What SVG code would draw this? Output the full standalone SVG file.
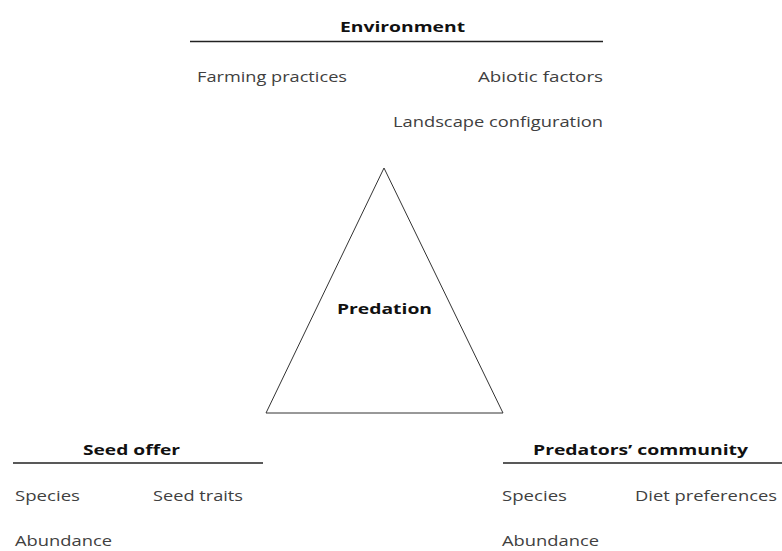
<svg xmlns="http://www.w3.org/2000/svg" width="782" height="551" viewBox="0 0 782 551">
<style>
text{font-family:"Open Sans","Liberation Sans",sans-serif;font-size:14px;fill:#404040}
.h{font-weight:bold;fill:#111;font-size:14.5px}
.rule{stroke:#222;stroke-width:1.6;fill:none}
.tri{stroke:#333;stroke-width:1;fill:none}
</style>
<rect width="782" height="551" fill="#fff"/>
<g id="environment">
<text class="h" x="340" y="32" textLength="125" lengthAdjust="spacingAndGlyphs">Environment</text>
<line class="rule" x1="190" y1="41.5" x2="603" y2="41.5"/>
<text x="197" y="82" textLength="150" lengthAdjust="spacingAndGlyphs">Farming practices</text>
<text x="478" y="82" textLength="125" lengthAdjust="spacingAndGlyphs">Abiotic factors</text>
<text x="393" y="127" textLength="210" lengthAdjust="spacingAndGlyphs">Landscape configuration</text>
</g>
<g id="predation">
<polygon class="tri" points="384,168 266,413 503,413"/>
<text class="h" x="337" y="314" textLength="95" lengthAdjust="spacingAndGlyphs">Predation</text>
</g>
<g id="seed-offer">
<text class="h" x="83" y="455" textLength="97" lengthAdjust="spacingAndGlyphs">Seed offer</text>
<line class="rule" x1="13" y1="463" x2="263" y2="463"/>
<text x="15" y="501" textLength="65" lengthAdjust="spacingAndGlyphs">Species</text>
<text x="153" y="501" textLength="90" lengthAdjust="spacingAndGlyphs">Seed traits</text>
<text x="15" y="546" textLength="97" lengthAdjust="spacingAndGlyphs">Abundance</text>
</g>
<g id="predators-community">
<text class="h" x="533" y="455" textLength="215" lengthAdjust="spacingAndGlyphs">Predators’ community</text>
<line class="rule" x1="503" y1="463" x2="782" y2="463"/>
<text x="502" y="501" textLength="65" lengthAdjust="spacingAndGlyphs">Species</text>
<text x="635" y="501" textLength="142" lengthAdjust="spacingAndGlyphs">Diet preferences</text>
<text x="502" y="546" textLength="97" lengthAdjust="spacingAndGlyphs">Abundance</text>
</g>
<g id="connectors"></g>
</svg>
